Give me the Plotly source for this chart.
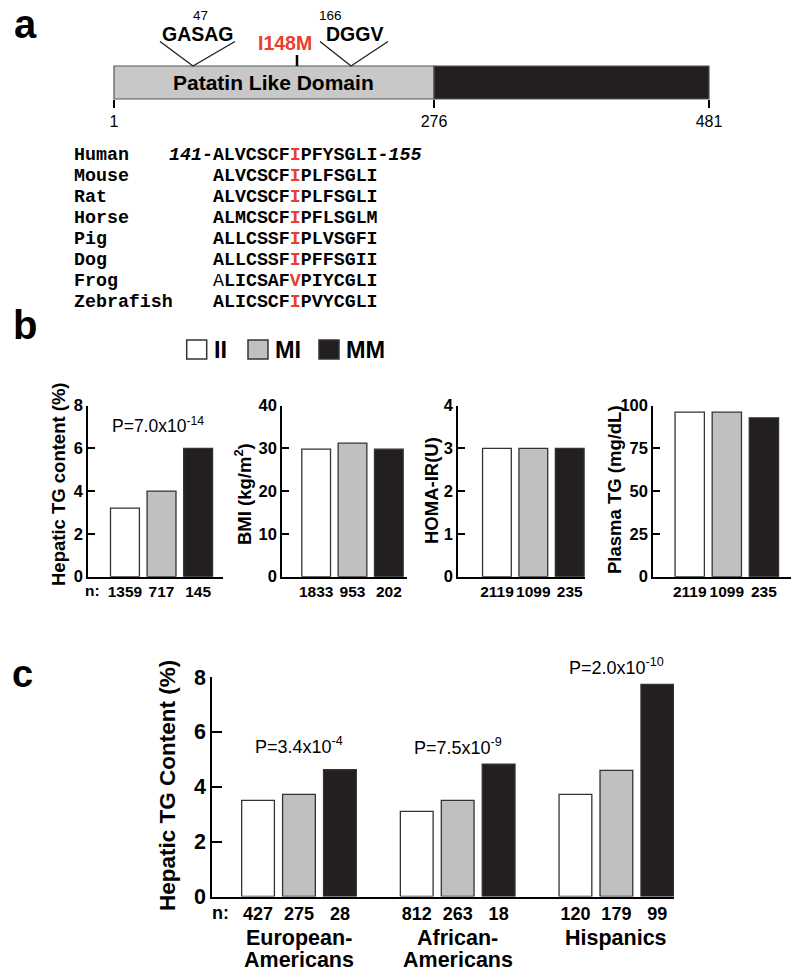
import plotly.graph_objects as go

W, H = 800, 978
SANS = "Arial, 'Liberation Sans', Helvetica, sans-serif"
MONO = "'Courier New', 'Liberation Mono', monospace"
RED = "#e8402c"
EDGE = "#333333"

# ---------------- data ----------------
genotypes = ["II", "MI", "MM"]
genotype_colors = ["#ffffff", "#c0c0c0", "#231f20"]

# panel a: protein schematic
protein_ticks = [1, 276, 481]
domain_name = "Patatin Like Domain"
motif_names = ["GASAG", "DGGV"]
motif_residues = [47, 166]
variant_label = "I148M"
variant_residue = 148

species = ["Human", "Mouse", "Rat", "Horse", "Pig", "Dog", "Frog", "Zebrafish"]
alignment = ["ALVCSCFIPFYSGLI", "ALVCSCFIPLFSGLI", "ALVCSCFIPLFSGLI", "ALMCSCFIPFLSGLM",
             "ALLCSSFIPLVSGFI", "ALLCSSFIPFFSGII", "ALICSAFVPIYCGLI", "ALICSCFIPVYCGLI"]
window_start, window_end = 141, 155
variant_offset = variant_residue - window_start

# panel b
b_titles = ["Hepatic TG content (%)", "BMI (kg/m<sup>2</sup>)", "HOMA-IR(U)", "Plasma TG (mg/dL)"]
hepatic_tg_b = [3.2, 4.0, 6.0]
bmi_b = [29.8, 31.2, 29.8]
homa_ir_b = [3.0, 3.0, 3.0]
plasma_tg_b = [96.1, 96.1, 92.8]
n_hepatic_b = ["1359", "717", "145"]
n_bmi_b = ["1833", "953", "202"]
n_homa_b = ["2119", "1099", "235"]
n_plasma_b = ["2119", "1099", "235"]
b_ymax = [8, 40, 4, 100]
b_dtick = [2, 10, 1, 25]
b_pvalue = "P=7.0x10<sup>-14</sup>"

# panel c
c_groups_line1 = ["European-", "African-", "Hispanics"]
c_groups_line2 = ["Americans", "Americans", ""]
c_II = [3.5, 3.1, 3.72]
c_MI = [3.72, 3.5, 4.6]
c_MM = [4.62, 4.82, 7.73]
c_n_II = ["427", "812", "120"]
c_n_MI = ["275", "263", "179"]
c_n_MM = ["28", "18", "99"]
c_pvalues = ["P=3.4x10<sup>-4</sup>", "P=7.5x10<sup>-9</sup>", "P=2.0x10<sup>-10</sup>"]

# ---------------- layout helpers ----------------
def px_x(px):
    return px / W


def px_y(py):
    return 1 - py / H


def font(size, bold=False, color="black", family=SANS):
    d = dict(family=family, size=size, color=color)
    if bold:
        d["weight"] = "bold"
    return d


fig = go.Figure()
annotations = []
shapes = []
layout = {}

# ---------------- panel b ----------------
b_values = [hepatic_tg_b, bmi_b, homa_ir_b, plasma_tg_b]
b_ns = [n_hepatic_b, n_bmi_b, n_homa_b, n_plasma_b]
b_xdom_px = [(88, 223), (282, 407), (458, 585), (653, 791)]
b_xrange = [(-1.01, 2.68), (-0.94, 2.5), (-1.07, 2.42), (-0.99, 2.73)]
b_ydom_px = (405.5, 576.7)
b_title_pos = [(59, 484), (243, 494), (431, 490), (614, 490)]

for i in range(4):
    k = "" if i == 0 else str(i + 1)
    fig.add_trace(go.Bar(
        x=[0, 1, 2], y=b_values[i], width=0.79,
        marker=dict(color=genotype_colors, line=dict(color=EDGE, width=1.3)),
        xaxis="x" + k, yaxis="y" + k, showlegend=False, hoverinfo="skip"))
    layout["xaxis" + k] = dict(
        domain=[px_x(b_xdom_px[i][0]), px_x(b_xdom_px[i][1])], range=list(b_xrange[i]),
        anchor="y" + k, tickmode="array", tickvals=[0, 1, 2], ticktext=b_ns[i], ticks="",
        tickangle=0, tickfont=font(15.5, True), showgrid=False, zeroline=False, showline=True,
        linecolor="black", linewidth=1.5, fixedrange=True, automargin=False)
    layout["yaxis" + k] = dict(
        domain=[px_y(b_ydom_px[1]), px_y(b_ydom_px[0])], range=[0, b_ymax[i]],
        tick0=0, dtick=b_dtick[i], ticks="inside", ticklen=7, tickwidth=1.5, tickcolor="black",
        tickfont=font(16.5, True), anchor="x" + k, showgrid=False, zeroline=False,
        showline=True, linecolor="black", linewidth=1.5, fixedrange=True, automargin=False)
    annotations.append(dict(
        text=b_titles[i], textangle=-90, x=px_x(b_title_pos[i][0]), y=px_y(b_title_pos[i][1]),
        xref="paper", yref="paper", showarrow=False, xanchor="center", yanchor="middle",
        font=font(18.5, True)))

annotations.append(dict(text=b_pvalue, x=0.9, y=7.1, xref="x", yref="y", showarrow=False,
                        xanchor="center", yanchor="middle", font=font(17.5)))
annotations.append(dict(text="n:", x=px_x(92), y=px_y(590), xref="paper", yref="paper",
                        showarrow=False, xanchor="center", yanchor="middle", font=font(15.5, True)))

# genotype key
legend_boxes_px = [186.7, 248, 319]
for j, g in enumerate(genotypes):
    x0 = legend_boxes_px[j]
    shapes.append(dict(type="rect", xref="paper", yref="paper",
                       x0=px_x(x0), x1=px_x(x0 + 20), y0=px_y(359), y1=px_y(340),
                       fillcolor=genotype_colors[j], line=dict(color=EDGE, width=1.5)))
    annotations.append(dict(text=g, x=px_x(x0 + 25), y=px_y(350), xref="paper", yref="paper",
                            showarrow=False, xanchor="left", yanchor="middle", font=font(23.5, True)))

# ---------------- panel c ----------------
bargap, bargroupgap = 0.226, 0.2
slot = (1 - bargap) / 3
c_vals = [c_II, c_MI, c_MM]
c_ns = [c_n_II, c_n_MI, c_n_MM]
for j, g in enumerate(genotypes):
    fig.add_trace(go.Bar(
        x=[0, 1, 2], y=c_vals[j], name=g,
        marker=dict(color=genotype_colors[j], line=dict(color=EDGE, width=1.3)),
        xaxis="x5", yaxis="y5", showlegend=False, hoverinfo="skip"))

tickvals_c, ticktext_c = [], []
for gi in range(3):
    for j in range(3):
        tickvals_c.append(gi + (j - 1) * slot)
        ticktext_c.append(c_ns[j][gi])

layout["xaxis5"] = dict(
    domain=[px_x(212), px_x(674)], range=[-0.548, 2.363], anchor="y5",
    tickmode="array", tickvals=tickvals_c, ticktext=ticktext_c, ticks="", tickangle=0,
    tickfont=font(18, True), showgrid=False, zeroline=False, showline=True,
    linecolor="black", linewidth=1.5, fixedrange=True, automargin=False)
layout["yaxis5"] = dict(
    domain=[px_y(896.5), px_y(677)], range=[0, 8], tick0=0, dtick=2,
    ticks="inside", ticklen=10, tickwidth=1.5, tickcolor="black",
    tickfont=font(21.5, True), anchor="x5", showgrid=False, zeroline=False,
    showline=True, linecolor="black", linewidth=1.5, fixedrange=True, automargin=False)

c_pvalue_lift_px = [24, 18, 18]
for gi in range(3):
    top = max(c_II[gi], c_MI[gi], c_MM[gi])
    annotations.append(dict(text=c_pvalues[gi], x=gi, y=top, yshift=c_pvalue_lift_px[gi],
                            xref="x5", yref="y5", showarrow=False, xanchor="center",
                            yanchor="middle", font=font(18)))
    annotations.append(dict(text=c_groups_line1[gi], x=gi, y=px_y(938), xref="x5", yref="paper",
                            showarrow=False, xanchor="center", yanchor="middle", font=font(21.5, True)))
    if c_groups_line2[gi]:
        annotations.append(dict(text=c_groups_line2[gi], x=gi, y=px_y(960), xref="x5", yref="paper",
                                showarrow=False, xanchor="center", yanchor="middle",
                                font=font(21.5, True)))
annotations.append(dict(text="n:", x=px_x(220), y=px_y(913), xref="paper", yref="paper",
                        showarrow=False, xanchor="center", yanchor="middle", font=font(18, True)))
annotations.append(dict(text="Hepatic TG Content (%)", textangle=-90, x=px_x(167), y=px_y(786),
                        xref="paper", yref="paper", showarrow=False, xanchor="center",
                        yanchor="middle", font=font(22.5, True)))

# ---------------- panel a ----------------
# schematic (not-to-scale) drawing positions for residues, as in the original diagram
schematic_px = {1: 114, 47: 193, 148: 297, 166: 351, 276: 434, 481: 709}
bar_top_px, bar_bot_px = 66, 99
unit = bar_bot_px - bar_top_px  # y6: 0 at bar bottom, 1 at bar top


def ay(py):
    return (bar_bot_px - py) / unit


layout["xaxis6"] = dict(
    domain=[0, 1], range=[0, W], anchor="free", position=px_y(bar_bot_px),
    tickmode="array", tickvals=[schematic_px[r] for r in protein_ticks],
    ticktext=[str(r) for r in protein_ticks], ticks="outside", ticklen=8, tickwidth=2,
    tickcolor="black", tickfont=font(16), tickangle=0, showline=False, showgrid=False,
    zeroline=False, fixedrange=True, automargin=False)
layout["yaxis6"] = dict(domain=[px_y(112), 1], range=[ay(112), ay(0)], anchor="x6",
                        visible=False, fixedrange=True, automargin=False)
fig.add_trace(go.Scatter(x=[None], y=[None], xaxis="x6", yaxis="y6", showlegend=False))

shapes.append(dict(type="rect", xref="x6", yref="y6", x0=schematic_px[1], x1=schematic_px[276],
                   y0=0, y1=1, fillcolor="#c8c8c8", line=dict(color="#555555", width=1.2)))
shapes.append(dict(type="rect", xref="x6", yref="y6", x0=schematic_px[276], x1=schematic_px[481],
                   y0=0, y1=1, fillcolor="#231f20", line=dict(color="#555555", width=1.2)))
annotations.append(dict(text=domain_name, x=(schematic_px[1] + schematic_px[276]) / 2 - 1,
                        y=0.5, xref="x6", yref="y6", showarrow=False, font=font(21, True)))

motif_arms = [(33, 42), (31, 37)]  # left/right arm half-widths for the V markers
for m, (name, res) in enumerate(zip(motif_names, motif_residues)):
    cx = schematic_px[res]
    lw, rw = motif_arms[m]
    shapes.append(dict(type="path", xref="x6", yref="y6",
                       path=f"M {cx - lw},{ay(41.5)} L {cx},{1} L {cx + rw},{ay(41.5)}",
                       line=dict(color="#222222", width=1.4)))
    annotations.append(dict(text=name, x=cx + (rw - lw) / 2, y=ay(34), xref="x6", yref="y6",
                            showarrow=False, font=font(19.5, True)))
    annotations.append(dict(text=str(res), x=cx + (rw - lw) / 2 + (3 if m == 0 else -24),
                            y=ay(15), xref="x6", yref="y6", showarrow=False, font=font(13.5)))

vx = schematic_px[variant_residue]
shapes.append(dict(type="line", xref="x6", yref="y6", x0=vx, x1=vx, y0=1, y1=ay(55),
                   line=dict(color="black", width=2.5)))
annotations.append(dict(text=variant_label, x=vx - 12, y=ay(43), xref="x6", yref="y6",
                        showarrow=False, font=font(19.5, True, RED)))

# sequence alignment
row_y0, row_step = 155, 21
name_x, seq_x = 73, 211.7
char_w = 0.6 * 18.3
for r, (sp, seq) in enumerate(zip(species, alignment)):
    y = px_y(row_y0 + r * row_step)
    annotations.append(dict(text=f"<b>{sp}</b>", x=px_x(name_x - 1), y=y, xref="paper", yref="paper",
                            showarrow=False, xanchor="left", yanchor="middle",
                            font=font(18.3, family=MONO)))
    pre, mid, post = seq[:variant_offset], seq[variant_offset], seq[variant_offset + 1:]
    mid_html = f"<span style='color:{RED}'>{mid}</span>"
    if sp == "Frog":
        body = f"{pre[0]}<b>{pre[1:]}{mid_html}{post}</b>"
    else:
        body = f"<b>{pre}{mid_html}{post}</b>"
    x0 = seq_x
    if sp == "Human":
        body = f"<b><i>{window_start}-</i></b>{body}<b><i>-{window_end}</i></b>"
        x0 = seq_x - 4 * char_w
    annotations.append(dict(text=body, x=px_x(x0 - 1), y=y, xref="paper", yref="paper",
                            showarrow=False, xanchor="left", yanchor="middle",
                            font=font(18.3, family=MONO)))

# panel letters
for letter, (lx, ly, fs) in zip(["a", "b", "c"], [(25, 24, 40), (25, 325, 40), (22, 674, 38)]):
    annotations.append(dict(text=letter, x=px_x(lx), y=px_y(ly), xref="paper", yref="paper",
                            showarrow=False, xanchor="center", yanchor="middle", font=font(fs, True)))

fig.update_layout(
    template="none",
    width=W, height=H, margin=dict(l=0, r=0, t=0, b=0, pad=0, autoexpand=False),
    paper_bgcolor="white", plot_bgcolor="white",
    barmode="group", bargap=bargap, bargroupgap=bargroupgap,
    showlegend=False, annotations=annotations, shapes=shapes,
    font=dict(family=SANS, color="black"),
    **layout)

fig.write_html("out.html", config={"displayModeBar": False},
               post_script="document.body.style.margin='0px';")
